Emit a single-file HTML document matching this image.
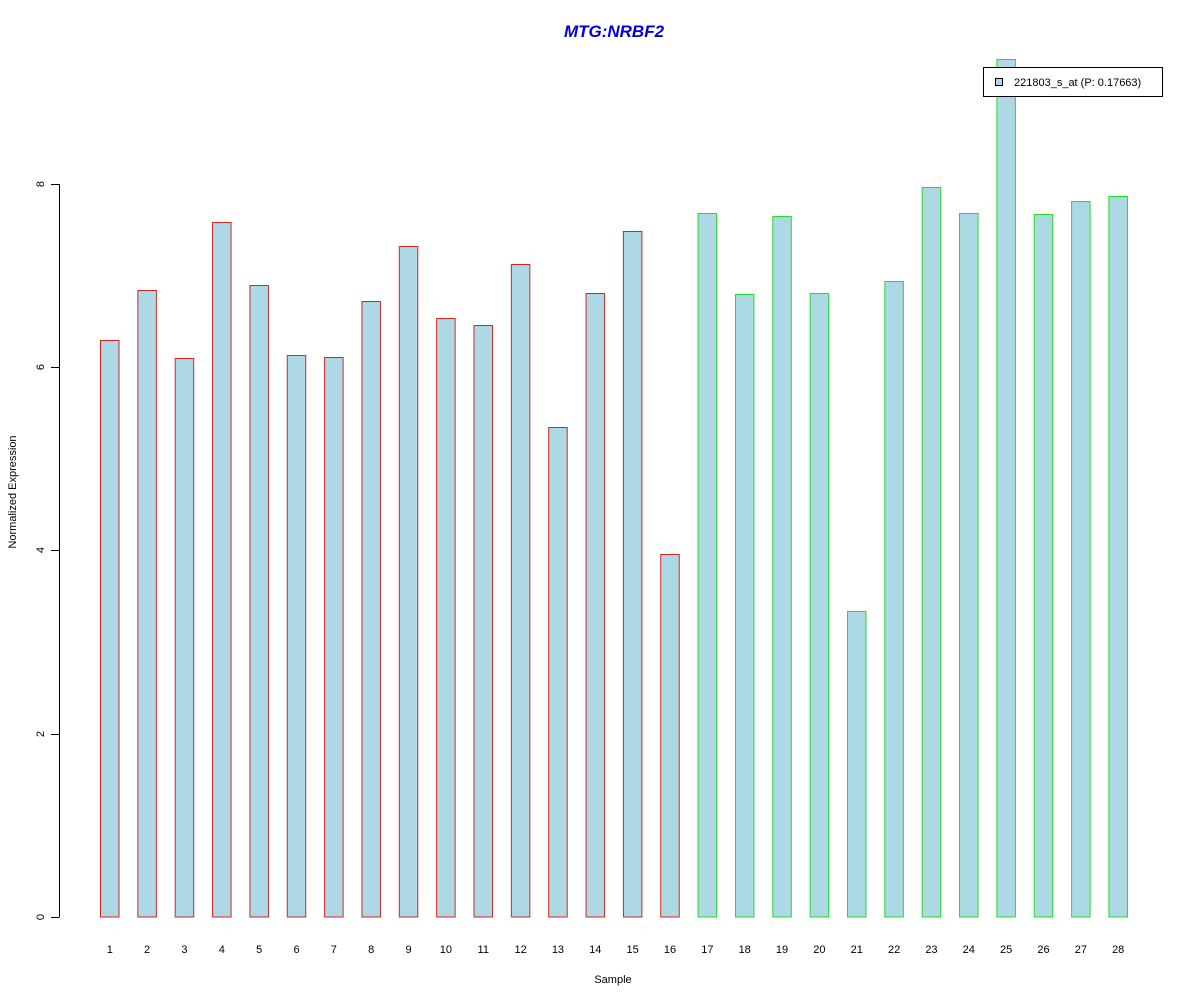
<!DOCTYPE html>
<html><head><meta charset="utf-8"><style>html,body{margin:0;padding:0;background:#fff}svg{display:block}</style></head>
<body>
<svg width="1200" height="1000" viewBox="0 0 1200 1000" xmlns="http://www.w3.org/2000/svg" font-family="Liberation Sans, Arial, sans-serif">
<rect width="1200" height="1000" fill="#fff"/>
<text x="614" y="37" text-anchor="middle" font-size="17" font-weight="bold" font-style="italic" fill="#0000dd">MTG:NRBF2</text>
<g stroke="#000" stroke-width="1" fill="none">
<line x1="59.5" y1="184" x2="59.5" y2="917"/>
<line x1="51" y1="917.5" x2="59.5" y2="917.5"/>
<line x1="51" y1="734.5" x2="59.5" y2="734.5"/>
<line x1="51" y1="550.5" x2="59.5" y2="550.5"/>
<line x1="51" y1="367.5" x2="59.5" y2="367.5"/>
<line x1="51" y1="184.5" x2="59.5" y2="184.5"/>
</g>
<g font-size="11" fill="#000" text-anchor="middle">
<text transform="translate(44,917) rotate(-90)">0</text>
<text transform="translate(44,734) rotate(-90)">2</text>
<text transform="translate(44,550) rotate(-90)">4</text>
<text transform="translate(44,367) rotate(-90)">6</text>
<text transform="translate(44,184) rotate(-90)">8</text>
<text transform="translate(16,492) rotate(-90)">Normalized Expression</text>
<text x="613" y="983">Sample</text>
</g>
<g fill="#add8e6" stroke="#dd2222" stroke-width="1">
<rect x="100.5" y="340.5" width="18.5" height="576.5"/>
<rect x="137.85" y="290.5" width="18.5" height="626.5"/>
<rect x="175.2" y="358.5" width="18.5" height="558.5"/>
<rect x="212.55" y="222.5" width="18.5" height="694.5"/>
<rect x="249.9" y="285.5" width="18.5" height="631.5"/>
<rect x="287.25" y="355.5" width="18.5" height="561.5"/>
<rect x="324.6" y="357.5" width="18.5" height="559.5"/>
<rect x="361.95" y="301.5" width="18.5" height="615.5"/>
<rect x="399.3" y="246.5" width="18.5" height="670.5"/>
<rect x="436.65" y="318.5" width="18.5" height="598.5"/>
<rect x="474" y="325.5" width="18.5" height="591.5"/>
<rect x="511.35" y="264.5" width="18.5" height="652.5"/>
<rect x="548.7" y="427.5" width="18.5" height="489.5"/>
<rect x="586.05" y="293.5" width="18.5" height="623.5"/>
<rect x="623.4" y="231.5" width="18.5" height="685.5"/>
<rect x="660.75" y="554.5" width="18.5" height="362.5"/>
</g>
<g fill="#add8e6" stroke="#22dd22" stroke-width="1">
<rect x="698.1" y="213.5" width="18.5" height="703.5"/>
<rect x="735.45" y="294.5" width="18.5" height="622.5"/>
<rect x="772.8" y="216.5" width="18.5" height="700.5"/>
<rect x="810.15" y="293.5" width="18.5" height="623.5"/>
<rect x="847.5" y="611.5" width="18.5" height="305.5"/>
<rect x="884.85" y="281.5" width="18.5" height="635.5"/>
<rect x="922.2" y="187.5" width="18.5" height="729.5"/>
<rect x="959.55" y="213.5" width="18.5" height="703.5"/>
<rect x="996.9" y="59.5" width="18.5" height="857.5"/>
<rect x="1034.25" y="214.5" width="18.5" height="702.5"/>
<rect x="1071.6" y="201.5" width="18.5" height="715.5"/>
<rect x="1108.95" y="196.5" width="18.5" height="720.5"/>
</g>
<g font-size="11" fill="#000" text-anchor="middle">
<text x="109.75" y="953">1</text><text x="147.1" y="953">2</text><text x="184.45" y="953">3</text><text x="221.8" y="953">4</text>
<text x="259.15" y="953">5</text><text x="296.5" y="953">6</text><text x="333.85" y="953">7</text><text x="371.2" y="953">8</text>
<text x="408.55" y="953">9</text><text x="445.9" y="953">10</text><text x="483.25" y="953">11</text><text x="520.6" y="953">12</text>
<text x="557.95" y="953">13</text><text x="595.3" y="953">14</text><text x="632.65" y="953">15</text><text x="670" y="953">16</text>
<text x="707.35" y="953">17</text><text x="744.7" y="953">18</text><text x="782.05" y="953">19</text><text x="819.4" y="953">20</text>
<text x="856.75" y="953">21</text><text x="894.1" y="953">22</text><text x="931.45" y="953">23</text><text x="968.8" y="953">24</text>
<text x="1006.15" y="953">25</text><text x="1043.5" y="953">26</text><text x="1080.85" y="953">27</text><text x="1118.2" y="953">28</text>
</g>
<rect x="983.5" y="67.5" width="179" height="29" fill="#fff" stroke="#000"/>
<rect x="995.5" y="78.5" width="7" height="7" fill="#add8e6" stroke="#000"/>
<text x="1014" y="86" font-size="11" fill="#000">221803_s_at (P: 0.17663)</text>
</svg>
</body></html>
